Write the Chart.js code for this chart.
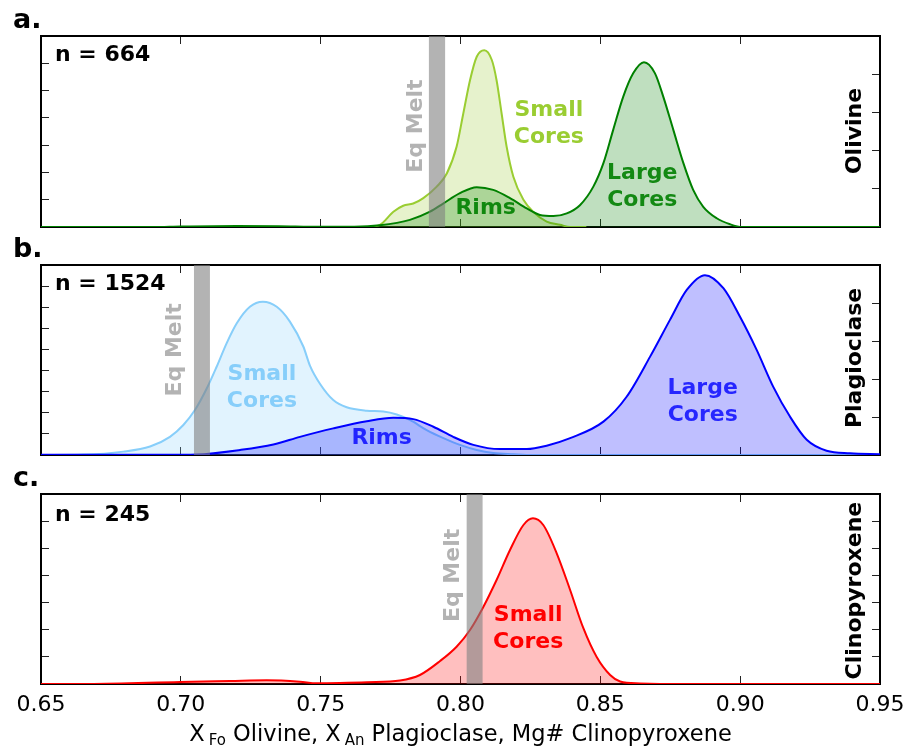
<!DOCTYPE html>
<html>
<head>
<meta charset="utf-8">
<script src="https://cdn.jsdelivr.net/npm/chart.js@4.4.1/dist/chart.umd.min.js"></script>
<style>
  html, body { margin: 0; background: #fff; }
  #figure { position: relative; width: 904px; height: 749px; background: #fff; }
  #figure canvas { position: absolute; left: 0; top: 0; }
</style>
</head>
<body>
<div id="figure">
  <canvas id="panelOlivine" width="904" height="749"></canvas>
  <canvas id="panelPlag" width="904" height="749"></canvas>
  <canvas id="panelCpx" width="904" height="749"></canvas>
</div>
<script>
/* Kernel density curves of crystal compositions, three stacked panels */

const X_MIN = 0.65;
const X_MAX = 0.95;
const X_STEP = 0.05;
const xTickLabels = ["0.65", "0.70", "0.75", "0.80", "0.85", "0.90", "0.95"];

// a. olivine
const olSmallX = [0.760, 0.7665, 0.7712, 0.7760, 0.7795, 0.7831, 0.7867, 0.7915, 0.7951, 0.7986, 0.8010, 0.8034, 0.8058, 0.8085, 0.8112, 0.8129, 0.8147, 0.8165, 0.8189, 0.8225, 0.8260, 0.8308, 0.8356, 0.8392, 0.845];
const olSmallY = [0, 0, 0.4, 2.8, 3.9, 4.3, 5.3, 7.4, 9.8, 14.7, 20.8, 26.9, 31.2, 32.4, 30.6, 26.9, 20.8, 14.7, 9.2, 5.0, 2.8, 1.0, 0.4, 0, 0];
const olLargeX = [0.65, 0.69, 0.70, 0.72, 0.735, 0.75, 0.762, 0.7712, 0.7819, 0.7891, 0.7938, 0.7998, 0.8058, 0.8117, 0.8177, 0.8237, 0.8284, 0.8332, 0.8380, 0.8427, 0.8475, 0.8511, 0.8546, 0.8582, 0.8618, 0.8656, 0.8695, 0.8725, 0.8761, 0.8797, 0.8832, 0.8868, 0.8916, 0.8964, 0.9007, 0.95];
const olLargeY = [0, 0, 0.1, 0.2, 0.15, 0.05, 0.05, 0.3, 1.3, 2.8, 4.3, 6.2, 7.3, 6.8, 5.3, 3.4, 2.2, 2.0, 2.5, 4.0, 7.4, 11.7, 17.8, 23.9, 28.2, 30.2, 28.2, 23.9, 17.8, 11.7, 6.8, 3.7, 1.6, 0.5, 0, 0];

// b. plagioclase
const plSmallX = [0.65, 0.665, 0.6794, 0.6890, 0.6961, 0.7009, 0.7051, 0.7093, 0.7128, 0.7164, 0.7200, 0.7247, 0.7293, 0.7343, 0.7390, 0.7438, 0.7462, 0.7498, 0.7545, 0.7593, 0.7665, 0.7724, 0.7772, 0.7819, 0.7879, 0.7939, 0.7998, 0.8058, 0.8117, 0.8189, 0.8260, 0.95];
const plSmallY = [0, 0.1, 0.8, 2.0, 4.3, 7.1, 10.7, 15.8, 20.9, 26.5, 31.2, 35.1, 36.3, 35.1, 31.6, 25.7, 21.1, 16.8, 13.0, 11.3, 10.5, 10.3, 9.6, 8.3, 5.9, 4.0, 2.4, 1.2, 0.5, 0.2, 0, 0];
const plLargeX = [0.65, 0.70, 0.7057, 0.7212, 0.7331, 0.7426, 0.7545, 0.7665, 0.7760, 0.7831, 0.7903, 0.7974, 0.8046, 0.8141, 0.8237, 0.8308, 0.8392, 0.8511, 0.8594, 0.8678, 0.8749, 0.8809, 0.8874, 0.8940, 0.8999, 0.9059, 0.9118, 0.9178, 0.9238, 0.9309, 0.9393, 0.95];
const plLargeY = [0.03, 0.05, 0.1, 1.2, 2.5, 4.3, 6.3, 8.0, 8.8, 8.5, 6.7, 4.3, 2.4, 1.4, 1.4, 2.2, 4.0, 7.9, 13.8, 23.3, 32.0, 39.1, 42.6, 39.5, 32.8, 24.9, 16.2, 9.1, 3.6, 1.0, 0.4, 0.2];

// c. clinopyroxene
const cpxSmallX = [0.65, 0.667, 0.6997, 0.7176, 0.7307, 0.7426, 0.7486, 0.7569, 0.7665, 0.7784, 0.7855, 0.7927, 0.7986, 0.8034, 0.8082, 0.8129, 0.8177, 0.8225, 0.8259, 0.8296, 0.8344, 0.8392, 0.8439, 0.8487, 0.8535, 0.8571, 0.8642, 0.8713, 0.95];
const cpxSmallY = [0, 0, 0.37, 0.55, 0.68, 0.42, 0.13, 0.18, 0.31, 0.64, 1.66, 4.24, 6.87, 9.95, 14.24, 19.16, 24.68, 29.29, 30.52, 29.29, 24.08, 17.32, 10.32, 4.97, 1.66, 0.46, 0.09, 0, 0];

// equilibrium melt composition bands
const olMeltBand = [0.7887, 0.7945];
const plMeltBand = [0.7047, 0.7104];
const cpxMeltBand = [0.8022, 0.8079];

const sampleCounts = [664, 1524, 245];

const FONT = '"DejaVu Sans", "Liberation Sans", sans-serif';
const MELT_COLOR = "rgba(128, 128, 128, 0.6)";
const FIG_HEIGHT = 749;


function toPoints(xs, ys) {
  return xs.map((x, i) => ({ x: x, y: ys[i] }));
}


function kdeDataset(xs, ys, line, fill) {
  return {
    data: toPoints(xs, ys),
    borderColor: line,
    backgroundColor: fill,
    borderWidth: 2,
    fill: "origin",
    pointRadius: 0,
    cubicInterpolationMode: "monotone",
  };
}


const tickGrid = {
  display: true,
  drawOnChartArea: false,
  drawTicks: true,
  tickLength: -8,
  tickWidth: 1,
  tickColor: "#222",
};

const frame = { display: true, color: "#000", width: 2 };


// size = space kept for the axis below/above the frame (labels need room, the clip uses it)
function xAxis(position, showLabels, size) {
  return {
    type: "linear",
    position: position,
    min: X_MIN,
    max: X_MAX,
    z: 1,
    grid: tickGrid,
    border: frame,
    ticks: {
      display: showLabels,
      stepSize: X_STEP,
      autoSkip: false,
      maxRotation: 0,
      padding: 16,
      color: "#000",
      font: { family: FONT, size: 22 },
      callback: (value, index) => xTickLabels[index],
    },
    afterFit: (scale) => {
      scale.height = size;
      scale.paddingLeft = 0;
      scale.paddingRight = 0;
    },
  };
}


function yAxis(position, max, step) {
  return {
    type: "linear",
    position: position,
    min: 0,
    max: max,
    z: 1,
    grid: tickGrid,
    border: frame,
    ticks: { display: false, stepSize: step },
    afterFit: (scale) => {
      scale.width = 0;
      scale.paddingTop = 0;
      scale.paddingBottom = 0;
    },
  };
}


function drawText(ctx, text, px, py, rotate) {
  const lines = text.split("\n");

  ctx.save();
  ctx.translate(px, py);
  if (rotate) ctx.rotate(-Math.PI / 2);
  lines.forEach((line, i) => {
    ctx.fillText(line, 0, (i - (lines.length - 1) / 2) * 27);
  });
  ctx.restore();
}


function drawAxisTitle(ctx, chartArea) {
  const parts = [
    { text: "X", sub: false },
    { text: "Fo", sub: true },
    { text: " Olivine, X", sub: false },
    { text: "An", sub: true },
    { text: " Plagioclase, Mg# Clinopyroxene", sub: false },
  ];
  const mainFont = `22.5px ${FONT}`;
  const subFont = `15px ${FONT}`;
  let total = 0;

  parts.forEach((p) => {
    ctx.font = p.sub ? subFont : mainFont;
    p.width = ctx.measureText(p.text).width + (p.sub ? 4 : 0);
    total += p.width;
  });

  let x = (chartArea.left + chartArea.right) / 2 - total / 2;
  const baseline = 741;

  ctx.fillStyle = "#000";
  ctx.textAlign = "left";
  ctx.textBaseline = "alphabetic";
  parts.forEach((p) => {
    ctx.font = p.sub ? subFont : mainFont;
    ctx.fillText(p.text, p.sub ? x + 4 : x, p.sub ? baseline + 4 : baseline);
    x += p.width;
  });
}


function notesPlugin(panel) {
  return {
    id: "panelNotes",
    afterDatasetsDraw(chart) {
      const { ctx, chartArea, scales } = chart;
      const xs = scales.x;
      const ys = scales.y;

      ctx.save();

      const b0 = xs.getPixelForValue(panel.band[0]);
      const b1 = xs.getPixelForValue(panel.band[1]);
      ctx.fillStyle = MELT_COLOR;
      ctx.fillRect(b0, chartArea.top, b1 - b0, chartArea.bottom - chartArea.top);

      ctx.textBaseline = "middle";
      panel.notes.forEach((note) => {
        ctx.font = `bold 22px ${FONT}`;
        ctx.fillStyle = note.color;
        ctx.textAlign = note.align || "center";
        drawText(ctx, note.text, xs.getPixelForValue(note.x), ys.getPixelForValue(note.y), note.rotate);
      });

      ctx.font = `bold 27px ${FONT}`;
      ctx.fillStyle = "#000";
      ctx.textAlign = "left";
      ctx.textBaseline = "alphabetic";
      ctx.fillText(panel.letter, chartArea.left - 28, chartArea.top - 8);

      if (panel.axisTitle) drawAxisTitle(ctx, chartArea);

      ctx.restore();
    },
  };
}


function buildPanel(canvasId, panel) {
  const canvas = document.getElementById(canvasId);
  const below = FIG_HEIGHT - panel.bottom;

  return new Chart(canvas, {
    type: "line",
    data: { datasets: panel.series },
    options: {
      responsive: false,
      animation: false,
      devicePixelRatio: 1,
      layout: {
        padding: { left: 41, right: 24, top: panel.top, bottom: panel.tickLabels ? 0 : below },
      },
      plugins: {
        legend: { display: false },
        tooltip: { enabled: false },
      },
      scales: {
        x: xAxis("bottom", panel.tickLabels, panel.tickLabels ? below : 0),
        x2: xAxis("top", false, 0),
        y: yAxis("left", panel.yMax, panel.yStep),
        y2: yAxis("right", panel.y2Max, panel.y2Step),
      },
    },
    plugins: [notesPlugin(panel)],
  });
}


const GREEN_TEXT = "rgba(0, 128, 0, 0.9)";
const BLUE_TEXT = "rgba(0, 0, 255, 0.8)";

buildPanel("panelOlivine", {
  top: 36,
  bottom: 227,
  yMax: 35,
  yStep: 5,
  y2Max: 5,
  y2Step: 1,
  tickLabels: false,
  letter: "a.",
  band: olMeltBand,
  series: [
    kdeDataset(olLargeX, olLargeY, "#008000", "rgba(0, 128, 0, 0.25)"),
    kdeDataset(olSmallX, olSmallY, "#9acd32", "rgba(154, 205, 50, 0.25)"),
  ],
  notes: [
    { text: "n = " + sampleCounts[0], x: 0.655, y: 31.5, color: "#000", align: "left" },
    { text: "Eq Melt", x: 0.7843, y: 18.5, color: MELT_COLOR, rotate: true },
    { text: "Small\nCores", x: 0.8316, y: 19.0, color: "#9acd32" },
    { text: "Rims", x: 0.809, y: 3.4, color: GREEN_TEXT },
    { text: "Large\nCores", x: 0.865, y: 7.4, color: GREEN_TEXT },
    { text: "Olivine", x: 0.9411, y: 17.6, color: "#000", rotate: true },
  ],
});

buildPanel("panelPlag", {
  top: 265,
  bottom: 455,
  yMax: 45,
  yStep: 5,
  y2Max: 5,
  y2Step: 1,
  tickLabels: false,
  letter: "b.",
  band: plMeltBand,
  series: [
    kdeDataset(plLargeX, plLargeY, "#0000ff", "rgba(0, 0, 255, 0.25)"),
    kdeDataset(plSmallX, plSmallY, "#87cefa", "rgba(135, 206, 250, 0.25)"),
  ],
  notes: [
    { text: "n = " + sampleCounts[1], x: 0.655, y: 40.4, color: "#000", align: "left" },
    { text: "Eq Melt", x: 0.6979, y: 24.9, color: MELT_COLOR, rotate: true },
    { text: "Small\nCores", x: 0.729, y: 16.0, color: "#87cefa" },
    { text: "Rims", x: 0.7718, y: 4.0, color: BLUE_TEXT },
    { text: "Large\nCores", x: 0.8866, y: 12.6, color: BLUE_TEXT },
    { text: "Plagioclase", x: 0.9411, y: 23.0, color: "#000", rotate: true },
  ],
});

buildPanel("panelCpx", {
  top: 494,
  bottom: 684,
  yMax: 35,
  yStep: 5,
  y2Max: 35,
  y2Step: 5,
  tickLabels: true,
  axisTitle: true,
  letter: "c.",
  band: cpxMeltBand,
  series: [
    kdeDataset(cpxSmallX, cpxSmallY, "#ff0000", "rgba(255, 0, 0, 0.25)"),
  ],
  notes: [
    { text: "n = " + sampleCounts[2], x: 0.655, y: 31.0, color: "#000", align: "left" },
    { text: "Eq Melt", x: 0.7974, y: 20.0, color: MELT_COLOR, rotate: true },
    { text: "Small\nCores", x: 0.8242, y: 10.2, color: "#ff0000" },
    { text: "Clinopyroxene", x: 0.9411, y: 17.2, color: "#000", rotate: true },
  ],
});
</script>
</body>
</html>
